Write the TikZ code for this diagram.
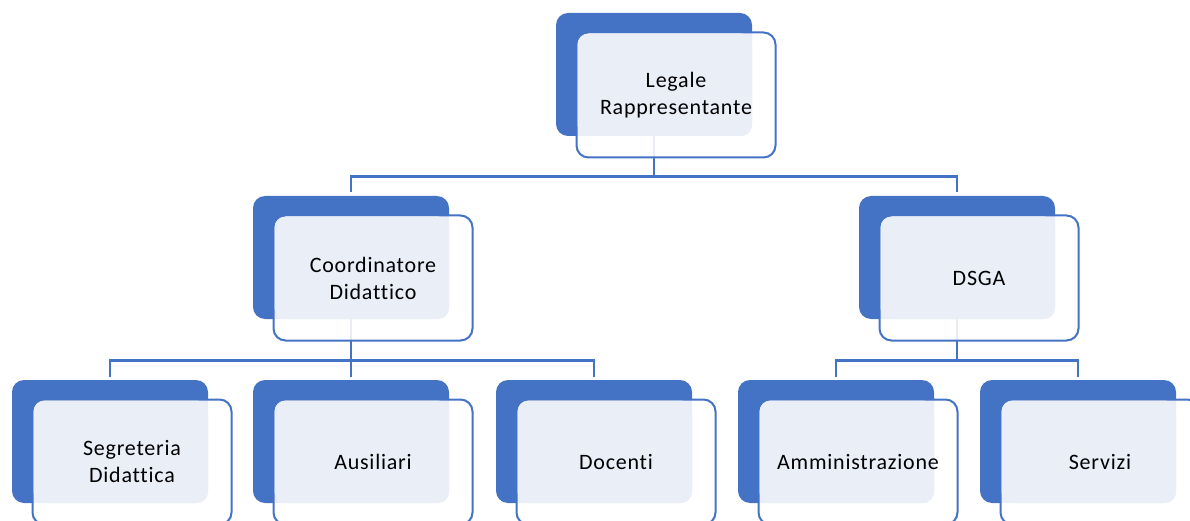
\documentclass[tikz,border=0pt]{standalone}
\usepackage{fontspec}
\setmainfont{Carlito}[Ligatures={NoCommon}, LetterSpace=3.5]
\usetikzlibrary{calc}
\definecolor{darkblue}{HTML}{4472C4}
\definecolor{lightfill}{HTML}{E9EEF7}
\tikzset{
  x=1pt, y=-1pt,
  darkbox/.style={fill=darkblue, draw=none, rounded corners=12pt, minimum width=196pt, minimum height=123pt, anchor=north west, inner sep=0pt, outer sep=0pt},
  framebox/.style={fill=white, fill opacity=0.88, draw=darkblue, draw opacity=1, line width=2pt, rounded corners=12pt, minimum width=199pt, minimum height=125pt, anchor=north west, inner sep=0pt, outer sep=0pt},
  lightbox/.style={fill=lightfill, rounded corners=11pt},
  lbl/.style={align=center, font=\fontsize{22}{27}\selectfont, text=black},
  conn/.style={draw=darkblue, line width=2.5pt},
}
\newcommand\orgunit[4]{%
  \node[darkbox] (#1d) at (#2,#3) {};
  \node[framebox] (#1f) at ($(#1d.north west)+(20.5,19.5)$) {};
  \fill[lightbox] ($(#1f.north west)+(1,1)$) rectangle (#1d.south east);
  \node[lbl] (#1) at (#1f.center) {#4};
}
\begin{document}
\begin{tikzpicture}
\useasboundingbox (0,0) rectangle (1190,521);
\clip (0,0) rectangle (1190,521);
% connectors (drawn first, under boxes)
\coordinate (bus1) at (0,176.5);
\coordinate (bus2) at (0,360.5);
\coordinate (topc) at (654,136);
\coordinate (coordc) at (351,319);
\coordinate (dsgac) at (957,319);
\draw[conn, shorten >=3.5pt] (topc) -- (topc |- bus1) -| (351,196);
\draw[conn, shorten >=3.5pt] (topc) -- (topc |- bus1) -| (957,196);
\draw[conn, shorten >=3.5pt] (coordc) -- (coordc |- bus2) -| (110,380);
\draw[conn, shorten >=3.5pt] (coordc) -- (coordc |- bus2) -- (351,380);
\draw[conn, shorten >=3.5pt] (coordc) -- (coordc |- bus2) -| (594,380);
\draw[conn, shorten >=3.5pt] (dsgac) -- (dsgac |- bus2) -| (836,380);
\draw[conn, shorten >=3.5pt] (dsgac) -- (dsgac |- bus2) -| (1078,380);
% units
\orgunit{top}{556}{13}{Legale\\Rappresentante}
\orgunit{coord}{253}{196}{Coordinatore\\Didattico}
\orgunit{dsga}{859}{196}{DSGA}
\orgunit{seg}{12}{380}{Segreteria\\Didattica}
\orgunit{aus}{253}{380}{Ausiliari}
\orgunit{doc}{496}{380}{Docenti}
\orgunit{amm}{738}{380}{Amministrazione}
\orgunit{serv}{980}{380}{Servizi}
\end{tikzpicture}
\end{document}
